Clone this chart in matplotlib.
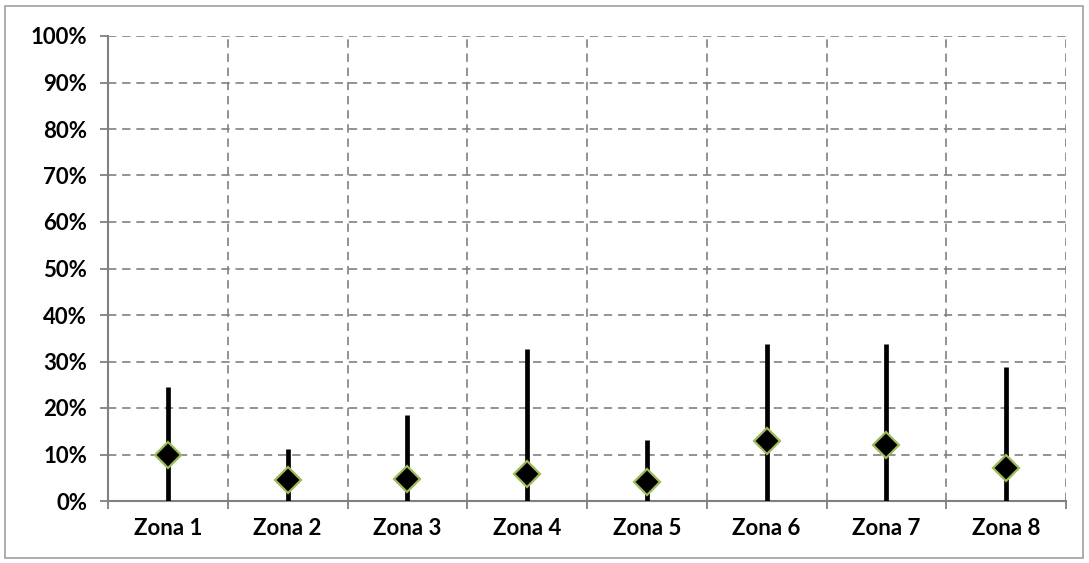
import numpy as np
import matplotlib.pyplot as plt
from matplotlib.patches import Rectangle

zonas = ["Zona 1", "Zona 2", "Zona 3", "Zona 4", "Zona 5", "Zona 6", "Zona 7", "Zona 8"]
media = [0.099, 0.045, 0.048, 0.059, 0.041, 0.129, 0.120, 0.071]
maximo = [0.246, 0.112, 0.184, 0.326, 0.131, 0.337, 0.337, 0.288]
yticks = np.arange(0, 1.01, 0.1)

plt.rcParams['font.family'] = ['Lato', 'DejaVu Sans']
plt.rcParams['font.weight'] = 'bold'

fig = plt.figure(figsize=(10.89, 5.63), dpi=100)
ax = fig.add_axes([108 / 1089, 62 / 563, (1066 - 108) / 1089, (501 - 36) / 563])

grid_c = "#808080"
x = np.arange(len(zonas))

ax.vlines(x, 0, maximo, color="black", linewidth=3.4, zorder=3)
ax.plot(x, media, linestyle="none", marker="D", markersize=13,
        markerfacecolor="black", markeredgecolor="#9BBB59", markeredgewidth=1.6, zorder=4)

ax.set_xlim(-0.5, len(zonas) - 0.5)
ax.set_ylim(0, 1)
ax.set_yticks(yticks)
ax.set_yticklabels([f"{int(round(v * 100))}%" for v in yticks], fontsize=16, fontweight="bold")

# category labels centred, ticks on boundaries
ax.set_xticks(x)
ax.set_xticklabels(zonas, fontsize=16, fontweight="bold")
ax.tick_params(axis="x", length=0, pad=12)
bounds = np.arange(-0.5, len(zonas), 1.0)
ax.set_xticks(bounds, minor=True)
ax.tick_params(axis="x", which="minor", length=6, width=1.3, color=grid_c)
ax.tick_params(axis="y", length=6, width=1.3, color=grid_c, pad=9)

for b in bounds[1:]:
    ax.axvline(b, color=grid_c, linestyle=(0, (5, 3.5)), linewidth=1.2, zorder=1)
for t in yticks[1:]:
    ax.axhline(t, color=grid_c, linestyle=(0, (5, 3.5)), linewidth=1.2, zorder=1)

for s in ["top", "right"]:
    ax.spines[s].set_visible(False)
for s in ["left", "bottom"]:
    ax.spines[s].set_color(grid_c)
    ax.spines[s].set_linewidth(1.5)

fig.patches.append(Rectangle((5 / 1089, 5 / 563), 1078 / 1089, 552 / 563, transform=fig.transFigure,
                             fill=False, edgecolor="#A0A0A0", linewidth=1.2))

fig.savefig("out.png", dpi=100)
